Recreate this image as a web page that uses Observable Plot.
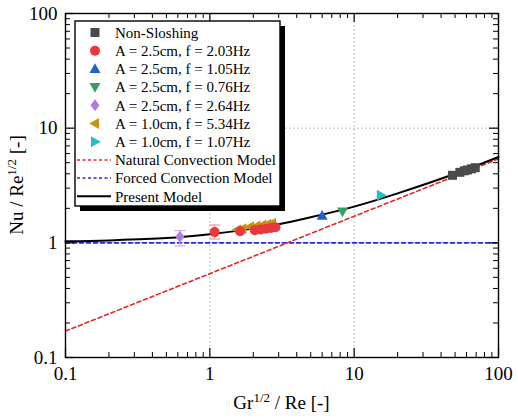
<!DOCTYPE html>
<html><head><meta charset="utf-8">
<script src="https://cdn.jsdelivr.net/npm/d3@7"></script>
<script src="https://cdn.jsdelivr.net/npm/@observablehq/plot@0.6"></script>
<style>body{margin:0;background:#fff} #chart{width:518px;height:418px}</style>
</head><body><div id="chart"></div><script>
// ---- tick values ----
const majorTicks = [0.1, 1, 10, 100];
const minorTicks = [0.2,0.3,0.4,0.5,0.6,0.7,0.8,0.9,2,3,4,5,6,7,8,9,20,30,40,50,60,70,80,90];
const gridTicks = [1, 10];

// ---- model curves ----
const naturalX = [0.1, 100];
const naturalY = [0.17, 5.4];
const forcedX = [0.1, 100];
const forcedY = [1.0, 1.0];
const presentX = [0.1, 0.2, 0.5, 1, 2, 3, 5, 10, 20, 50, 100];
const presentY = [1.03, 1.05, 1.10, 1.19, 1.33, 1.45, 1.67, 2.07, 2.7, 4.0, 5.6];

// ---- measured series [x, y] ----
const nonSloshing = [[48,3.88],[54,4.12],[58,4.25],[61,4.32],[65,4.42],[69,4.52]];
const a25f203 = [[1.08,1.24],[1.62,1.26],[2.05,1.29],[2.25,1.31],[2.45,1.33],[2.65,1.35],[2.85,1.37]];
const a25f105 = [[6.0,1.72]];
const a25f076 = [[8.3,1.88]];
const a25f264 = [[0.62,1.13]];
const a10f534 = [[1.55,1.30],[1.68,1.33],[1.9,1.38],[2.1,1.40],[2.3,1.42],[2.5,1.45],[2.7,1.48]];
const a10f107 = [[15.3,2.6]];

// error bars [x, low, high]
const errA25f203 = [[1.08,1.08,1.43]];
const errA25f264 = [[0.62,0.94,1.28]];

const seriesLabels = ["Non-Sloshing","A = 2.5cm, f = 2.03Hz","A = 2.5cm, f = 1.05Hz","A = 2.5cm, f = 0.76Hz","A = 2.5cm, f = 2.64Hz","A = 1.0cm, f = 5.34Hz","A = 1.0cm, f = 1.07Hz"];
const seriesColors = ["#4a4a4a","#e8383d","#1f62c9","#3a9d66","#b07be0","#c8920f","#20c0c8"];
const lineLabels = ["Natural Convection Model","Forced Convection Model","Present Model"];
const lineColors = ["#e02a2a","#2a2ad0","#000000"];

// ---- symbols ----
function poly(pts){return {draw(ctx,size){const r=Math.sqrt(size/Math.PI);ctx.moveTo(pts[0][0]*r,pts[0][1]*r);for(let i=1;i<pts.length;i++)ctx.lineTo(pts[i][0]*r,pts[i][1]*r);ctx.closePath();}};}
const symSquare = poly([[-0.9,-0.9],[0.9,-0.9],[0.9,0.9],[-0.9,0.9]]);
const symCircle = {draw(ctx,size){const r=Math.sqrt(size/Math.PI);ctx.moveTo(r,0);ctx.arc(0,0,r,0,2*Math.PI);}};
const symUp = poly([[0,-1.15],[1.1,0.8],[-1.1,0.8]]);
const symDown = poly([[0,1.15],[1.1,-0.8],[-1.1,-0.8]]);
const symDiamond = poly([[0,-1.2],[0.9,0],[0,1.2],[-0.9,0]]);
const symLeft = poly([[-1.15,0],[0.8,-1.1],[0.8,1.1]]);
const symRight = poly([[1.15,0],[-0.8,-1.1],[-0.8,1.1]]);
const symCap = {draw(ctx,size){const r=Math.sqrt(size/Math.PI);ctx.moveTo(-r,0);ctx.lineTo(r,0);}};
const seriesSymbols = [symSquare,symCircle,symUp,symDown,symDiamond,symLeft,symRight];
const seriesData = [nonSloshing,a25f203,a25f105,a25f076,a25f264,a10f534,a10f107];

const W = 518, H = 418;
const mL = 65, mR = 20, mT = 13, mB = 61;
const fw = W - mL - mR, fh = H - mT - mB;
const serif = "'Liberation Serif','Times New Roman',serif";

const zip = (xs, ys) => xs.map((x,i)=>({x, y: ys[i]}));

const marks = [
  Plot.ruleX(gridTicks, {x: d=>d, stroke:"#a8a8a8", strokeDasharray:"1.5,2.5"}),
  Plot.ruleY(gridTicks, {y: d=>d, stroke:"#a8a8a8", strokeDasharray:"1.5,2.5"}),
  Plot.line(zip(forcedX, forcedY), {x:"x", y:"y", stroke: lineColors[1], strokeWidth:1.6, strokeDasharray:"4,3"}),
  Plot.line(zip(naturalX, naturalY), {x:"x", y:"y", stroke: lineColors[0], strokeWidth:1.6, strokeDasharray:"4,3"}),
  Plot.line(zip(presentX, presentY), {x:"x", y:"y", stroke: lineColors[2], strokeWidth:2, curve:"catmull-rom"}),
  // error bars
  Plot.ruleX(errA25f203, {x: d=>d[0], y1: d=>d[1], y2: d=>d[2], stroke:"#f2a0a2", strokeWidth:1.3}),
  Plot.ruleX(errA25f264, {x: d=>d[0], y1: d=>d[1], y2: d=>d[2], stroke:"#cfb0ef", strokeWidth:1.3}),
  Plot.dot(errA25f203.flatMap(d=>[[d[0],d[1]],[d[0],d[2]]]), {x: d=>d[0], y: d=>d[1], symbol: symCap, r:5.5, fill:"none", stroke:"#f2a0a2", strokeWidth:1.3}),
  Plot.dot(errA25f264.flatMap(d=>[[d[0],d[1]],[d[0],d[2]]]), {x: d=>d[0], y: d=>d[1], symbol: symCap, r:5.5, fill:"none", stroke:"#cfb0ef", strokeWidth:1.3}),
];
const drawOrder = [0,5,1,2,3,4,6];
for (const i of drawOrder) {
  marks.push(Plot.dot(seriesData[i], {x: d=>d[0], y: d=>d[1], symbol: seriesSymbols[i], r:5, fill: seriesColors[i], stroke:"none"}));
}
// inward ticks on all four sides
marks.push(
  Plot.tickX(majorTicks, {x:d=>d, insetTop: fh-9, stroke:"#000", strokeWidth:1.2}),
  Plot.tickX(minorTicks, {x:d=>d, insetTop: fh-5, stroke:"#000", strokeWidth:1}),
  Plot.tickX(majorTicks, {x:d=>d, insetBottom: fh-9, stroke:"#000", strokeWidth:1.2}),
  Plot.tickX(minorTicks, {x:d=>d, insetBottom: fh-5, stroke:"#000", strokeWidth:1}),
  Plot.tickY(majorTicks, {y:d=>d, insetRight: fw-9, stroke:"#000", strokeWidth:1.2}),
  Plot.tickY(minorTicks, {y:d=>d, insetRight: fw-5, stroke:"#000", strokeWidth:1}),
  Plot.tickY(majorTicks, {y:d=>d, insetLeft: fw-9, stroke:"#000", strokeWidth:1.2}),
  Plot.tickY(minorTicks, {y:d=>d, insetLeft: fw-5, stroke:"#000", strokeWidth:1}),
  Plot.frame({stroke:"#000", strokeWidth:1.4}),
  Plot.axisX(majorTicks, {tickSize:0, tickPadding:9, tickFormat: d=>String(d), fontSize:19, label:null}),
  Plot.axisY(majorTicks, {tickSize:0, tickPadding:8, tickFormat: d=>String(d), fontSize:19, label:null})
);

const svg = Plot.plot({
  width: W, height: H,
  marginLeft: mL, marginRight: mR, marginTop: mT, marginBottom: mB,
  style: {fontFamily: serif, background:"#fff", color:"#000", overflow:"visible"},
  x: {type:"log", domain:[0.1,100], label:null},
  y: {type:"log", domain:[0.1,100], label:null},
  marks
});

const s = d3.select(svg);
const lx = 75, ly = 21, lw = 205, lh = 185, rowH = 18.2;
const lg = s.append("g").attr("text-anchor","start");
lg.append("rect").attr("x", lx+5).attr("y", ly+5).attr("width", lw).attr("height", lh).attr("fill","#000");
lg.append("rect").attr("x", lx).attr("y", ly).attr("width", lw).attr("height", lh).attr("fill","#fff").attr("stroke","#000").attr("stroke-width",1.4);
const rows = seriesLabels.length + lineLabels.length;
for (let i = 0; i < rows; i++) {
  const cy = ly + 11.5 + i*rowH;
  if (i < seriesLabels.length) {
    const sym = d3.symbol().type(seriesSymbols[i]).size(5*5*Math.PI);
    lg.append("path").attr("d", sym()).attr("transform", `translate(${lx+20},${cy})`).attr("fill", seriesColors[i]);
  } else {
    const j = i - seriesLabels.length;
    lg.append("line").attr("x1", lx+2).attr("x2", lx+36).attr("y1", cy).attr("y2", cy)
      .attr("stroke", lineColors[j]).attr("stroke-width", j===2?2:1.5)
      .attr("stroke-dasharray", j===2?null:"3,2.5");
  }
  lg.append("text").attr("x", lx+40).attr("y", cy).attr("dy","0.35em").attr("text-anchor","start")
    .attr("font-family", serif).attr("font-size", 15).attr("fill","#000")
    .text(i < seriesLabels.length ? seriesLabels[i] : lineLabels[i-seriesLabels.length]);
}

// axis titles with superscripts
const xt = s.append("text").attr("x", mL + fw/2).attr("y", 409).attr("text-anchor","middle")
  .attr("font-family", serif).attr("font-size", 19).attr("fill","#000");
xt.append("tspan").text("Gr");
xt.append("tspan").attr("dy",-7).attr("font-size",13).text("1/2");
xt.append("tspan").attr("dy",7).text(" / Re [-]");

const yt = s.append("text").attr("transform", `translate(23,${mT + fh/2}) rotate(-90)`).attr("text-anchor","middle")
  .attr("font-family", serif).attr("font-size", 19).attr("fill","#000");
yt.append("tspan").text("Nu / Re");
yt.append("tspan").attr("dy",-7).attr("font-size",13).text("1/2");
yt.append("tspan").attr("dy",7).text(" [-]");

document.getElementById("chart").appendChild(svg);
</script></body></html>
